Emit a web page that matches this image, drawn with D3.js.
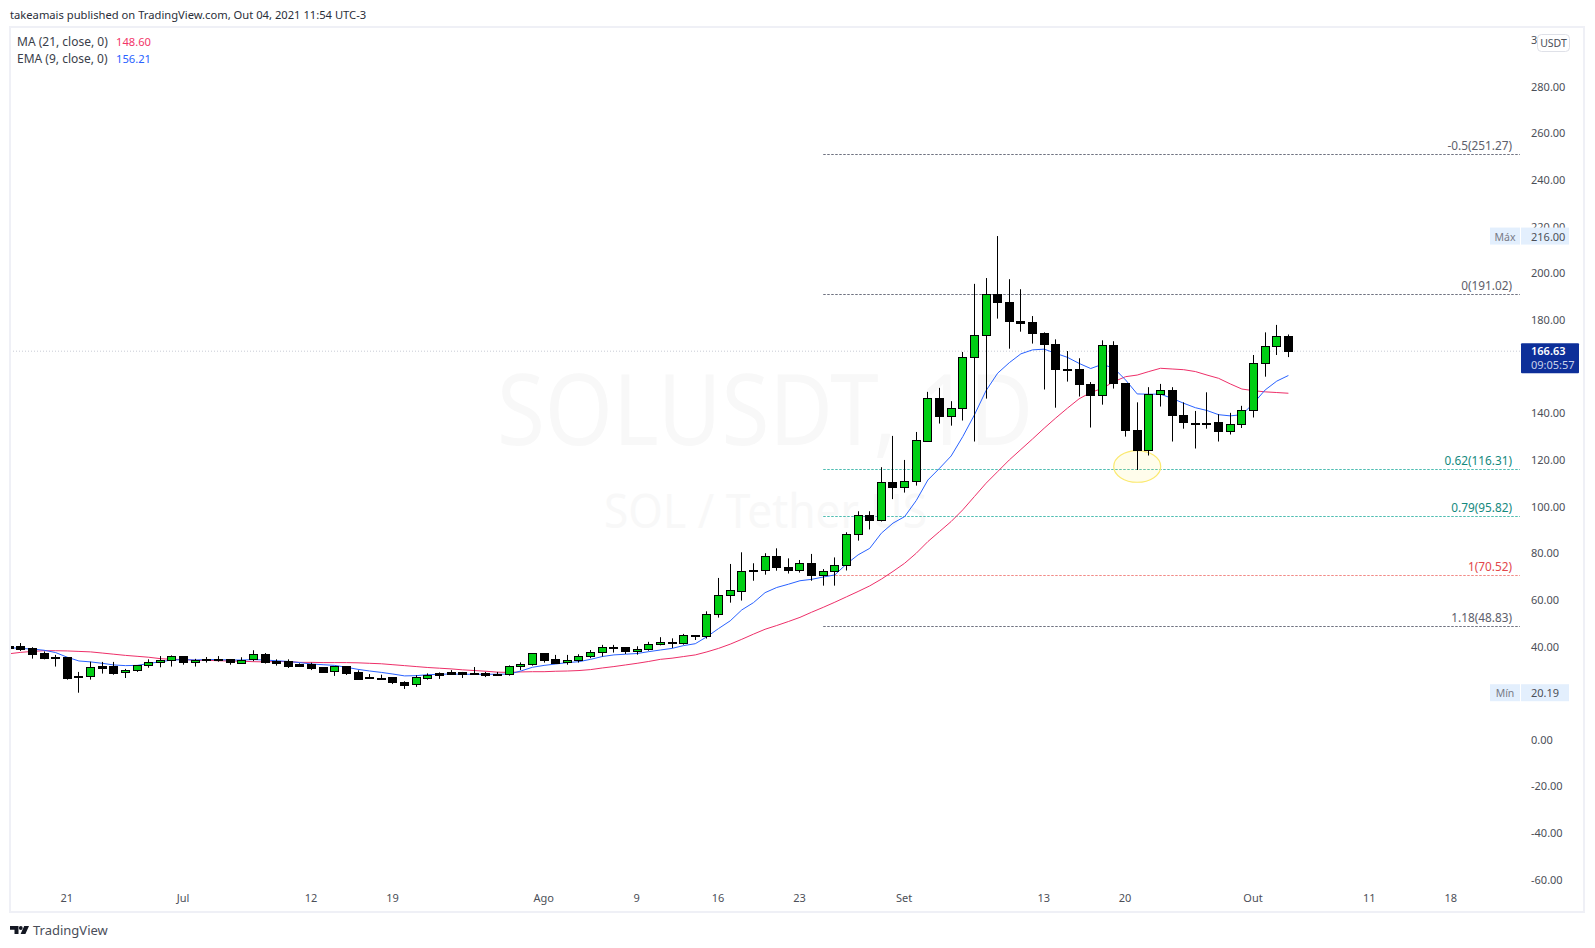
<!DOCTYPE html>
<html>
<head>
<meta charset="utf-8">
<script src="https://cdn.jsdelivr.net/npm/d3@7"></script>
<style>
  html, body { margin: 0; background: #fff; }
  text { font-family: "Noto Sans", sans-serif; }
</style>
</head>
<body>
<svg id="chart" width="1595" height="948"></svg>
<script>
// daily candles 16 Jun -> 4 Oct 2021, one row per month
const firstDay = new Date(Date.UTC(2021, 5, 16));

const opens = [
  40.2,40.2,39.4,37.2,35.6,35.5,27.2,27.1,31.6,31.6,28.9,29.8,31.9,33.1,34.1,
  35.8,33.2,34.6,34.5,34.5,33.2,34.4,36.7,33.8,33.8,32.5,32.7,31.2,29.2,31.6,29.1,26.8,26.7,26.8,24.8,23.7,26.7,28.6,29.1,29.1,28.6,28.6,28.4,27.9,31.4,32.4,
  37.1,34.65,33.1,34,35.8,37.4,39.8,39.7,38,38.8,41,41.8,41.3,44.8,44.4,53.8,62,64.1,72.8,72.7,78.7,74,72.5,75.7,70.4,72.2,74.9,88.2,96.3,94,110.4,
  108.3,110.9,128,146.4,138.6,142.2,164,173.5,191,187.6,179.6,179,174.3,169.6,159,158.9,152.4,147.7,169.2,152.9,132.7,124.2,148,149.9,139.2,136,136,136.2,132.2,135.3,
  141.3,161.4,168.7,173
];
const highs = [
  40.2,41.5,39.7,37.9,36.4,35.5,29.1,33.5,33.4,33.4,30.4,31.9,34.5,35.9,36.2,
  35.8,34.7,35.5,35.9,34.5,35.4,38.4,37.2,34.5,34.5,32.8,33.1,31.2,31.5,31.6,29.8,28.2,27.9,26.8,25.1,27.7,28.5,28.9,29.9,29.1,31.2,29.1,29.1,31.9,33.2,37.1,
  37.1,36.4,36.4,36.7,38.5,40.7,40.7,39.7,40.1,42,44,43.5,45.4,44.8,55.1,69.4,75.4,80.4,75.7,80,82.1,77.8,77.1,79.7,73.2,78.2,89,98,98,116.9,130.3,
  120,132,149.2,150.9,145.2,166.3,195.5,198,216,197.5,193.2,181.7,174.7,171.7,166.7,163.6,153.4,171.3,170.9,152.9,144.7,151.2,152.6,151.2,144.7,141,149,139.6,140.2,143.2,
  165,174.7,177.9,173.8
];
const lows = [
  39.5,38.1,34.8,34.5,31.4,25.8,20.19,25.8,28.4,27.9,26.5,29.1,30.9,31.1,31.4,
  32.2,31.4,33.1,33.5,32.2,33.1,33.7,32.7,31.8,30.8,31.2,29.9,28.7,27.4,27.8,26.2,26.1,26.1,23.9,21.8,22.7,25.8,26.1,27.8,26.5,27.9,26.9,27.5,27.5,29.9,31.8,
  33.1,33.1,32.2,33.1,35,35.7,37.4,36.8,36.5,38.2,40.5,39.4,40.8,42.8,43.4,52.4,58.8,59.7,68.2,70.8,72.5,71.3,71.7,68.2,66.1,66.1,72.6,85.4,90.2,93.6,103.2,
  106,109,128,135.6,134.7,136.9,127.9,146.3,180.6,167.7,175,169.9,150.2,142.4,153.6,147.2,133.9,143.7,150.6,130,115.7,121.9,142.9,127.9,133.4,124.9,133.4,127.9,130.9,133.7,
  138.2,155.7,165,164.1
];
const closes = [
  39.5,38.8,36.9,35.2,35.3,26.7,26.8,31.1,30.9,28.8,29.8,31.9,33.2,34.1,35.8,
  33.1,34.1,34.2,34.3,33.1,34.4,36.7,33.2,33.1,31.8,31.7,30.8,29.1,31.5,28.4,26.2,26.2,26.5,24.5,23.7,26.8,27.9,27.8,28.2,28.4,28.4,27.8,28,31.5,32.4,37.1,
  34.2,33.1,34.1,35.8,37.5,39.7,39.4,37.8,38.8,41,41.8,41.2,44.8,44.2,53.8,62,64.1,72.5,72.4,78.7,73.8,72.5,75.6,70.4,72.2,74.8,88.2,96.3,94,110.4,108.1,
  110.9,128.4,146.4,138.6,142.2,164,173.5,191,187.5,179.3,178.9,174.2,169.5,158.7,158.4,152.3,147.6,169.2,152.7,132.6,124,148.2,149.9,139,136,135.7,135.6,132.2,135.3,141.3,
  161.4,168.7,173,166.63
];
const ema9 = [
  39.5,39.2,38.9,38.4,37.4,35.4,33.8,33.4,32.8,32.1,31.8,31.9,32.7,33.5,34.2,
  34.4,34.2,34.4,34.4,34.2,34.2,34.4,34.2,33.9,33.6,33.1,32.5,32.2,31.9,31.1,30.2,29.5,28.9,28.2,27.4,27.5,27.9,28.1,28.2,28.1,28.1,28.1,28.1,28.2,29.5,31.1,
  31.9,32.5,33.1,33.5,34.5,35.7,36.4,36.7,37,37.8,38.5,39.2,40.4,41.2,44.2,47.7,51,55.7,58.8,63.1,65.3,66.7,68.2,68.8,69.8,70.7,75.4,79.3,82.1,88.6,92.9,
  95.7,102.6,111.4,116.4,121.7,130,139.3,149.7,157.2,161.7,165.5,167.2,167.5,165.7,164,161.4,159.2,161,159.3,154.3,148.3,148.2,148.2,146.4,144.3,142.4,141.2,139.4,138.9,139.4,
  144.3,150,153.8,156.21
];
const ma21 = [
  36.9,37.5,37.9,38.2,38.2,38.1,37.9,37.7,37.2,36.7,36.2,35.8,35.4,34.8,34.5,
  34.4,34.1,34.1,33.9,33.8,33.7,33.5,33.4,33.6,33.5,33.2,33.2,33.1,33.1,33.1,33,32.8,32.6,32.2,31.8,31.4,31,30.7,30.4,30,29.7,29.4,29,28.9,29.1,29.2,
  29.2,29.4,29.5,29.7,30.1,30.8,31.4,32.1,32.8,33.6,34.5,35,35.7,36.4,37.7,39.2,41,43.1,45.3,47.4,49,50.7,52.5,54.7,56.8,59,61.3,63.6,66,68.9,72.2,
  75.7,80,85,89.3,93.6,98.6,104.3,110,115,120,124.5,129,133.6,138,142.2,146.2,148.9,150.7,153.6,155.7,156.4,157.9,159.3,159,158.7,157.9,156.4,155,152.6,150.4,
  149.7,149.2,148.9,148.6
];

const priceTicks = [300,280,260,240,220,200,180,160,140,120,100,80,60,40,20,0,-20,-40,-60];
const timeTickDates = ['2021-06-21','2021-07-01','2021-07-12','2021-07-19','2021-08-01','2021-08-09','2021-08-16','2021-08-23','2021-09-01','2021-09-13','2021-09-20','2021-10-01','2021-10-11','2021-10-18'];
const timeTickLabels = ['21','Jul','12','19','Ago','9','16','23','Set','13','20','Out','11','18'];
const fibLevels = ['-0.5','0','0.62','0.79','1','1.18'];
const fibPrices = [251.27,191.02,116.31,95.82,70.52,48.83];
const lastPrice = 166.63, maxPrice = 216, minPrice = 20.19;

const svg = d3.select('#chart');
const paneLeft = 10, paneRight = 1520, paneTop = 27, paneBottom = 912, frameRight = 1584;
const bodyW = 8;

const utc = d3.utcParse('%Y-%m-%d');
const days = opens.map((_, i) => d3.utcDay.offset(firstDay, i));

const x = d3.scaleUtc()
  .domain([utc('2021-06-21'), utc('2021-10-04')])
  .range([67.3, 1288.4]);
const y = d3.scaleLinear().domain([0, 280]).range([739.8, 86.8]);

const fibColor = (i) => i < 2 || i == 5 ? '#6f7280' : i == 4 ? '#f28b87' : '#4dbdb1';
const fibTextColor = (i) => i < 2 || i == 5 ? '#5d606b' : i == 4 ? '#e2474b' : '#14897e';

svg.append('defs').append('clipPath').attr('id', 'pane')
  .append('rect')
  .attr('x', paneLeft + 1).attr('y', paneTop)
  .attr('width', paneRight - paneLeft).attr('height', paneBottom - paneTop);

// frame + header
svg.append('rect')
  .attr('x', paneLeft).attr('y', paneTop)
  .attr('width', frameRight - paneLeft).attr('height', paneBottom - paneTop)
  .attr('fill', 'none').attr('stroke', '#eff0f6').attr('stroke-width', 2);

svg.append('text').attr('x', 10).attr('y', 19)
  .attr('font-size', 11.2).attr('fill', '#2a2e39')
  .text('takeamais published on TradingView.com, Out 04, 2021 11:54 UTC-3');

// watermark, squeezed to the width it has in the picture
const wm = svg.append('g').attr('fill', '#f8f8f8').attr('text-anchor', 'middle');
wm.append('text').attr('x', 765).attr('y', 445).attr('font-size', 98)
  .attr('textLength', 536).attr('lengthAdjust', 'spacingAndGlyphs').text('SOLUSDT, 1D');
wm.append('text').attr('x', 765.5).attr('y', 528).attr('font-size', 48)
  .attr('textLength', 323).attr('lengthAdjust', 'spacingAndGlyphs').text('SOL / Tether US');

const plot = svg.append('g').attr('clip-path', 'url(#pane)');

// last price line
plot.append('line')
  .attr('x1', paneLeft).attr('x2', paneRight)
  .attr('y1', y(lastPrice)).attr('y2', y(lastPrice))
  .attr('stroke', '#c8cbd6').attr('stroke-dasharray', '1,2');

// fib levels
const fibStart = x(utc('2021-08-25'));
plot.selectAll('.fib').data(fibPrices).join('line')
  .attr('class', 'fib')
  .attr('x1', fibStart).attr('x2', paneRight)
  .attr('y1', (d) => Math.round(y(d)) + 0.5).attr('y2', (d) => Math.round(y(d)) + 0.5)
  .attr('stroke', (d, i) => fibColor(i))
  .attr('stroke-dasharray', '2.5,1.5');

plot.selectAll('.fib-label').data(fibPrices).join('text')
  .attr('class', 'fib-label')
  .attr('x', 1512)
  .attr('y', (d) => y(d) - 4)
  .attr('text-anchor', 'end')
  .attr('font-size', 11.8)
  .attr('fill', (d, i) => fibTextColor(i))
  .text((d, i) => `${fibLevels[i]}(${d.toFixed(2)})`);

// highlight around the 0.62 touch
plot.append('ellipse')
  .attr('cx', x(utc('2021-09-21'))).attr('cy', y(117.2))
  .attr('rx', 23.5).attr('ry', 15.8)
  .attr('fill', 'rgba(255,235,59,0.1)')
  .attr('stroke', '#fbe96e').attr('stroke-width', 1.2);

// moving averages
const line = d3.line().x((d, i) => x(days[i])).y((d) => y(d));
plot.append('path').datum(ma21).attr('d', line)
  .attr('fill', 'none').attr('stroke', '#ee2f69').attr('stroke-width', 1);
plot.append('path').datum(ema9).attr('d', line)
  .attr('fill', 'none').attr('stroke', '#2962ff').attr('stroke-width', 1);

// candles
const candles = plot.selectAll('.candle').data(days).join('g').attr('class', 'candle');
candles.append('line')
  .attr('x1', (d) => Math.floor(x(d)) + 0.5).attr('x2', (d) => Math.floor(x(d)) + 0.5)
  .attr('y1', (d, i) => y(highs[i])).attr('y2', (d, i) => y(lows[i]))
  .attr('stroke', '#000');
candles.append('rect')
  .attr('x', (d) => Math.floor(x(d)) - bodyW / 2 + 0.5)
  .attr('y', (d, i) => Math.round(y(Math.max(opens[i], closes[i]))) + 0.5)
  .attr('width', bodyW)
  .attr('height', (d, i) => Math.max(1, Math.round(Math.abs(y(opens[i]) - y(closes[i])))))
  .attr('fill', (d, i) => closes[i] > opens[i] ? '#00cf14' : '#000')
  .attr('stroke', '#000');

// axes
const yAxis = d3.axisRight(y).tickValues(priceTicks).tickSize(0).tickPadding(0)
  .tickFormat((d) => d.toFixed(2));
svg.append('g').attr('transform', 'translate(1531,0)').call(yAxis)
  .call((g) => g.select('.domain').remove())
  .selectAll('text').attr('font-size', 11).attr('fill', '#4c4f58').attr('font-family', '"Noto Sans"');

const xAxis = d3.axisBottom(x).tickValues(timeTickDates.map(utc)).tickSize(0).tickPadding(0)
  .tickFormat((d, i) => timeTickLabels[i]);
svg.append('g').attr('transform', 'translate(-1,894)').call(xAxis)
  .call((g) => g.select('.domain').remove())
  .selectAll('text').attr('font-size', 11).attr('fill', '#4c4f58').attr('font-family', '"Noto Sans"');

// currency box
svg.append('rect').attr('x', 1537.5).attr('y', 34.5).attr('width', 32).attr('height', 17).attr('rx', 4)
  .attr('fill', '#fff').attr('stroke', '#dfe1e8');
svg.append('text').attr('x', 1553.5).attr('y', 47).attr('text-anchor', 'middle')
  .attr('font-size', 10.5).attr('fill', '#4c4f58').text('USDT');

// max / min badges
[['Máx', maxPrice], ['Mín', minPrice]].forEach(([name, val]) => {
  const g = svg.append('g').attr('transform', `translate(0,${y(val)})`);
  g.append('rect').attr('x', 1490).attr('y', -8.5).attr('width', 30).attr('height', 17).attr('fill', '#e3effd');
  g.append('rect').attr('x', 1521).attr('y', -8.5).attr('width', 48).attr('height', 17).attr('fill', '#e3effd');
  g.append('text').attr('x', 1505).attr('y', 4.5).attr('text-anchor', 'middle')
    .attr('font-size', 10.5).attr('fill', '#787b86').text(name);
  g.append('text').attr('x', 1531).attr('y', 4.5)
    .attr('font-size', 11).attr('fill', '#4c4f58').text(val.toFixed(2));
});

// last price badge
const lastY = y(lastPrice);
svg.append('rect').attr('x', 1521).attr('y', lastY - 8).attr('width', 58).attr('height', 30).attr('rx', 1).attr('fill', '#0d2f99');
svg.append('text').attr('x', 1531).attr('y', lastY + 4).attr('font-size', 11).attr('font-weight', 600)
  .attr('fill', '#fff').text(lastPrice.toFixed(2));
svg.append('text').attr('x', 1531).attr('y', lastY + 18).attr('font-size', 11)
  .attr('fill', '#c9d2ea').text('09:05:57');

// legend
const legend = [['MA (21, close, 0)', ma21, '#f23568'], ['EMA (9, close, 0)', ema9, '#2962ff']];
legend.forEach(([name, vals, color], i) => {
  const t = svg.append('text').attr('x', 17).attr('y', 46 + i * 17).attr('font-size', 12).attr('fill', '#3a3e4a');
  t.append('tspan').text(name);
  t.append('tspan').attr('x', 116).attr('font-size', 11.2).attr('fill', color).text(vals[vals.length - 1].toFixed(2));
});

// TradingView mark
svg.append('path').attr('fill', '#131722')
  .attr('d', 'M10 926h8.5v8h-4v-4.3h-4.5zM24.2 926h4.8l-3.6 8h-4.8z');
svg.append('circle').attr('cx', 20.8).attr('cy', 928).attr('r', 1.9).attr('fill', '#131722');
svg.append('text').attr('x', 33).attr('y', 935).attr('font-size', 13).attr('fill', '#4a4e5a').text('TradingView');
</script>
</body>
</html>
